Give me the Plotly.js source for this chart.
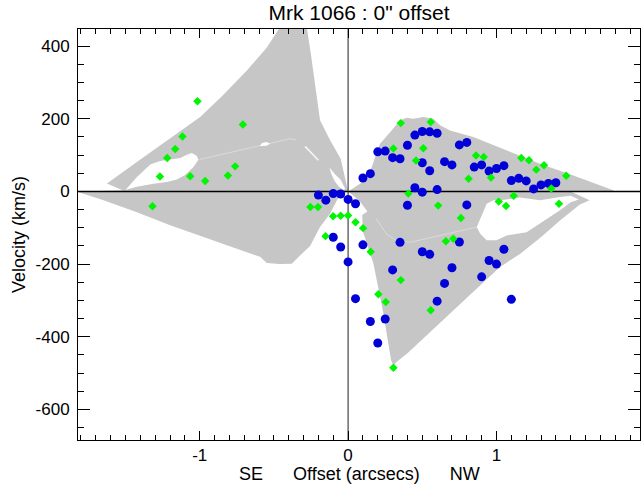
<!DOCTYPE html>
<html><head><meta charset="utf-8">
<script src="https://cdn.plot.ly/plotly-3.0.1.min.js"></script>
<style>html,body{margin:0;padding:0;background:#fff}#chart{width:642px;height:490px}</style>
</head><body><div id="chart"></div>
<script>
// Axis ranges and ticks
const X_RANGE = [-1.82, 1.967];
const Y_RANGE = [-684, 447];
const xTickVals = [-1, 0, 1];
const xTickText = ['-1', '0', '1'];
const yTickVals = [-600, -400, -200, 0, 200, 400];
const yTickText = ['-600', '-400', '-200', '0', '200', '400'];

// Blue circles
const blueX = [-0.2,-0.15,-0.1,-0.05,0,0.05,
  0.1,0.15,0.2,0.25,0.3,0.35,0.4,0.45,0.5,0.55,0.6,
  0.5,0.55,0.65,0.7,0.75,0.8,0.85,0.9,0.95,1.0,1.05,1.1,1.15,1.2,1.25,1.3,1.35,1.4,
  0.45,0.5,0.6,0.4,0.8,
  0.35,0.5,0.55,0.75,0.3,0.7,0.65,0.6,0.95,1.0,1.05,0.9,1.1,
  0.25,0.2,0.15,0.05,0,-0.05,-0.1,0.1];
const blueY = [-10,-24,-6,-7,-22,-34,
  37,49,109,111,93,90,127,155,165,164,160,
  79,57,82,73,128,135,67,73,56,63,71,30,36,29,7,18,22,24,
  10,-2,5,-38,-37,
  -140,-166,-173,-139,-216,-210,-253,-302,-190,-200,-159,-235,-297,
  -351,-417,-358,-295,-194,-153,-126,-147];

// Green diamonds
const greenX = [-1.318,-1.268,-1.219,-1.165,-1.116,-1.064,-1.015,-0.963,-0.81,-0.761,-0.709,
  -0.254,-0.203,-0.152,-0.101,-0.05,0,0.05,0.101,0.152,0.204,0.254,0.305,0.355,0.557,
  0.305,0.355,0.406,0.458,0.507,0.557,0.607,0.659,0.709,0.76,0.812,0.862,0.914,0.963,
  1.015,1.064,1.116,1.167,1.219,1.268,1.32,1.369,1.421,1.47];
const greenY = [-41,41,92,117,151,42,248,29,44,69,184,
  -43,-43,-123,-68,-67,-66,-85,-101,-166,-283,-304,-485,-244,-327,
  118,188,-6,85,119,191,-39,-137,-130,-73,35,99,95,38,
  -28,-40,-12,92,86,60,72,8,-34,43];

// Grey envelope (outlines)
const grayLeftX = [-1.52,-1.625,-1.40,-1.20,-0.997,-0.85,-0.682,-0.55,-0.458,-0.43,-0.27,-0.278,-0.251,-0.222,-0.189,-0.12,-0.05,-0.025,0,
  -0.054,-0.121,-0.189,-0.256,-0.346,-0.38,-0.46,-0.548,-0.593,-0.75,-0.974,-1.199,-1.423,-1.648,-1.83];
const grayLeftY = [3,22,88,145,205,262,333,395,450,470,470,450,379,287,196,140,90,45,0,
  -8,-61,-98,-150,-185,-199,-200,-197,-180,-157,-125,-93,-57,-24,0];
const grayRightX = [0,0.081,0.126,0.16,0.182,0.215,0.283,0.35,0.395,0.44,0.507,0.575,0.62,0.687,0.844,1.069,1.293,1.518,1.787,1.79,1.50,
  1.628,1.562,1.428,1.293,1.158,1.024,0.90,0.80,0.687,0.485,0.40,0.33,0.305,0.29,0.238,0.171,0.14,0.10,0.095,0.13,0.08,0.03];
const grayRightY = [0,21,40,67,95,131,163,196,203,200,205,200,182,168,150,113,76,44,3,0,0,
  -24,-36,-80,-128,-172,-208,-255,-293,-336,-410,-445,-468,-478,-465,-336,-199,-160,-110,-65,-55,-28,-10];

// White gaps inside the envelope
const holeLeftX = [-1.50,-1.423,-1.333,-1.266,-1.199,-1.131,-1.086,-1.053,-1.02,-1.008,-1.042,-1.098,-1.154,-1.221,-1.311,-1.423];
const holeLeftY = [4,40,74,84,88,92,101,106,98,87,67,45,33,26,21,13];
const holeCenterX = [-0.125,-0.09,-0.05,-0.02,-0.03,-0.06,-0.09,-0.115];
const holeCenterY = [66,48,32,8,4,12,28,50];
const holeBlobX = [-0.595,-0.58,-0.55,-0.525,-0.55];
const holeBlobY = [125,133,136,131,126];
const holeRightX = [0.867,0.911,0.934,0.979,1.024,1.158,1.293,1.428,1.50,1.555,1.50,1.428,1.293,1.203,1.069,1.0,0.934,0.889];
const holeRightY = [-98,-57,-34,-24,-24,-17,-24,-15,-12,-22,-30,-52,-89,-112,-121,-134,-134,-116];
const seamLeftX = [-1.0,-0.391,-0.35];
const seamLeftY = [88,145,142];
const sliverX = [-0.29,-0.2];
const sliverY = [124,86];
const seamRightX = [0.19,0.26,0.33,0.42,0.867];
const seamRightY = [-75,-118,-136,-140,-98];

const GRAY = 'rgb(198,198,198)';
function poly(x, y, color) {
  return {type:'scatter', x:x, y:y, mode:'lines', fill:'toself', fillcolor:color,
    line:{width:0, color:color}, hoverinfo:'skip', showlegend:false};
}
function seam(x, y, w, c) {
  return {type:'scatter', x:x, y:y, mode:'lines', line:{width:w, color:c},
    hoverinfo:'skip', showlegend:false};
}

const traces = [
  poly(grayLeftX, grayLeftY, GRAY),
  poly(grayRightX, grayRightY, GRAY),
  poly(holeLeftX, holeLeftY, '#ffffff'),
  poly(holeCenterX, holeCenterY, '#ffffff'),
  poly(holeBlobX, holeBlobY, '#ffffff'),
  poly(holeRightX, holeRightY, '#ffffff'),
  seam(seamLeftX, seamLeftY, 1, 'rgba(255,255,255,0.35)'),
  seam(sliverX, sliverY, 1.5, 'rgba(255,255,255,0.85)'),
  seam(seamRightX, seamRightY, 1, 'rgba(255,255,255,0.35)'),
  // zero reference lines
  seam(X_RANGE, [0, 0], 1.6, '#000000'),
  seam([0, 0], Y_RANGE, 1, '#222222'),
  {type:'scatter', mode:'markers', x:blueX, y:blueY, hoverinfo:'skip', showlegend:false,
    marker:{symbol:'circle', size:9, color:'rgb(0,0,215)', line:{width:0}}},
  {type:'scatter', mode:'markers', x:greenX, y:greenY, hoverinfo:'skip', showlegend:false,
    marker:{symbol:'diamond', size:6.5, color:'rgb(0,245,0)', line:{width:0}}}
];

const FONT = 'Liberation Sans, Arial, Helvetica, sans-serif';
const NB = '\u00a0';
const layout = {
  width:642, height:490,
  margin:{l:78, r:2, t:29, b:50},
  paper_bgcolor:'#ffffff', plot_bgcolor:'#ffffff',
  font:{family:FONT, color:'#000000', size:17},
  showlegend:false,
  title:{text:'Mrk 1066 : 0" offset', font:{family:FONT, size:21, color:'#000'},
    x:0.5, xref:'paper', y:1-13/490, yref:'container', yanchor:'middle'},
  xaxis:{range:X_RANGE, tickmode:'array', tickvals:xTickVals, ticktext:xTickText,
    ticks:'inside', ticklen:9, tickwidth:1, tickcolor:'#000',
    minor:{tickmode:'linear', tick0:0, dtick:0.1, ticks:'inside', ticklen:5, tickwidth:1, tickcolor:'#000'},
    showline:true, linecolor:'#000', linewidth:1, mirror:'allticks',
    showgrid:false, zeroline:false, tickfont:{size:17}, ticklabelstandoff:0,
    title:{text:''}},
  yaxis:{range:Y_RANGE, tickmode:'array', tickvals:yTickVals, ticktext:yTickText,
    ticks:'inside', ticklen:12, tickwidth:1, tickcolor:'#000',
    minor:{tickmode:'linear', tick0:0, dtick:50, ticks:'inside', ticklen:6, tickwidth:1, tickcolor:'#000'},
    showline:true, linecolor:'#000', linewidth:1, mirror:'allticks',
    showgrid:false, zeroline:false, tickfont:{size:17}, ticklabelstandoff:4,
    title:{text:'Velocity (km/s)', font:{size:18}, standoff:5}},
  annotations:[
    {text:'SE'+NB.repeat(6)+'Offset (arcsecs)'+NB.repeat(6)+'NW', xref:'paper', yref:'paper',
     x:0.5, y:-34/411, xanchor:'center', yanchor:'middle', showarrow:false, borderpad:0,
     font:{family:FONT, size:18, color:'#000'}}
  ]
};
Plotly.newPlot('chart', traces, layout, {staticPlot:true, displayModeBar:false});
</script></body></html>
